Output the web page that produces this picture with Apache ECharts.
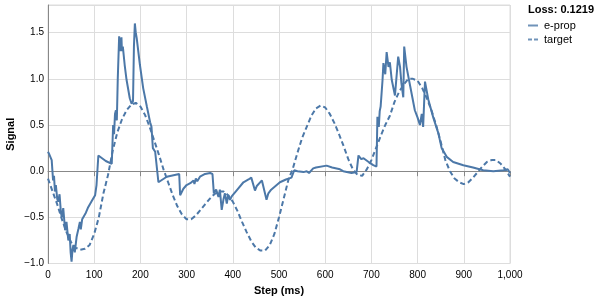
<!DOCTYPE html>
<html>
<head>
<meta charset="utf-8">
<script src="https://cdn.jsdelivr.net/npm/echarts@6/dist/echarts.min.js"></script>
<style>html,body{margin:0;padding:0;background:#fff}#c{width:600px;height:300px}</style>
</head>
<body>
<div id="c"></div>
<script>
// e-prop output (step ms, value)
const epropSteps = [0,3,8,11,13,15,17,20,22,25,28,30,33,37,40,44,47,49,51,53,55,58,62,66,69,71,74,77,82,87,95,102,105,109,125,138,141,143,145,147,149,151,154,156,158,159,160,162,166,170,177,181,184,186,188,190,192,199,206,214,221,224,227,232,239,257,284,286,293,300,308,315,317,320,323,329,340,351,356,359,364,369,372,376,380,383,387,390,394,398,408,423,434,440,444,448,452,463,466,473,477,483,502,515,527,533,540,553,560,565,574,580,603,615,632,639,657,668,672,678,683,694,704,711,713,716,718,720,722,724,726,730,733,737,740,744,751,758,762,765,769,771,776,784,794,800,805,809,812,816,823,834,845,852,863,877,899,920,942,964,986,995,998,1000];
const epropValues = [0.21,0.18,0.12,-0.10,-0.05,-0.22,-0.15,-0.30,-0.33,-0.25,-0.45,-0.50,-0.40,-0.64,-0.55,-0.75,-0.68,-0.88,-0.98,-0.85,-0.80,-0.88,-0.71,-0.62,-0.55,-0.63,-0.52,-0.53,-0.45,-0.39,-0.32,-0.26,-0.15,0.17,0.11,0.08,0.50,0.40,0.62,0.66,0.55,1.00,1.46,1.30,1.42,1.45,1.30,1.35,1.15,0.99,0.79,0.73,0.76,1.35,1.60,1.50,1.44,1.15,0.90,0.70,0.53,0.48,0.25,0.21,-0.12,-0.06,-0.03,-0.26,-0.19,-0.15,-0.13,-0.10,-0.14,-0.08,-0.11,-0.06,-0.03,-0.02,-0.03,-0.24,-0.20,-0.28,-0.20,-0.42,-0.30,-0.24,-0.35,-0.26,-0.31,-0.27,-0.21,-0.12,-0.09,-0.07,-0.09,-0.21,-0.16,-0.10,-0.09,-0.31,-0.24,-0.20,-0.12,-0.09,-0.07,0.01,0.00,-0.01,0.00,-0.02,0.03,0.04,0.06,0.04,0.02,0.00,-0.02,-0.01,0.17,0.13,0.14,0.10,0.065,0.05,0.59,0.48,0.65,0.70,0.84,0.98,1.17,1.05,1.29,1.13,1.18,0.99,0.82,1.24,1.13,0.95,0.80,1.35,1.13,0.92,0.66,0.58,0.50,0.62,0.48,0.97,0.78,0.58,0.41,0.25,0.155,0.10,0.065,0.04,0.01,0.00,0.01,0.02,0.00,-0.02];

// target signal (step ms, value)
const targetSteps = [0,10,20,30,40,50,60,70,80,90,100,110,120,130,140,150,160,170,180,190,200,210,220,230,240,250,260,270,280,290,300,310,320,330,340,350,360,370,380,390,400,410,420,430,440,450,460,470,480,490,500,510,520,530,540,550,560,570,580,590,600,610,620,630,640,650,660,670,680,690,700,710,720,730,740,750,760,770,780,790,800,810,820,830,840,850,860,870,880,890,900,910,920,930,940,950,960,970,980,990,1000];
const targetValues = [-0.08,-0.22,-0.36,-0.52,-0.66,-0.77,-0.83,-0.85,-0.84,-0.80,-0.68,-0.50,-0.24,-0.04,0.22,0.42,0.56,0.66,0.72,0.74,0.70,0.61,0.48,0.33,0.18,0.02,-0.12,-0.26,-0.38,-0.47,-0.52,-0.52,-0.48,-0.42,-0.36,-0.30,-0.25,-0.22,-0.22,-0.26,-0.33,-0.43,-0.55,-0.66,-0.76,-0.83,-0.86,-0.86,-0.80,-0.68,-0.50,-0.30,-0.10,0.03,0.20,0.36,0.48,0.60,0.68,0.71,0.69,0.62,0.52,0.40,0.27,0.13,0.02,-0.04,-0.05,0.02,0.12,0.25,0.38,0.50,0.60,0.75,0.86,0.94,1.00,1.00,0.98,0.90,0.79,0.66,0.50,0.32,0.12,0.00,-0.08,-0.12,-0.14,-0.12,-0.07,-0.01,0.05,0.10,0.12,0.12,0.08,0.02,-0.06];

const seriesNames = ['e-prop', 'target'];
const lossText = 'Loss: 0.1219';
const xTitle = 'Step (ms)';
const yTitle = 'Signal';

const FONT = '"Liberation Sans", Arial, sans-serif';
const COLOR = '#4c78a8';

const chart = echarts.init(document.getElementById('c'), null, {renderer: 'canvas'});
chart.setOption({
  animation: false,
  textStyle: {fontFamily: FONT},
  title: {
    text: lossText, left: 528, top: 4, padding: 0,
    textStyle: {fontSize: 11, fontWeight: 'bold', color: '#000', fontFamily: FONT}
  },
  legend: {
    orient: 'vertical', left: 528, top: 20, padding: 0, itemWidth: 10, itemHeight: 2, itemGap: 3,
    textStyle: {fontSize: 11, color: '#000', fontFamily: FONT, padding: [0, 0, 0, 1]},
    itemStyle: {opacity: 0.8},
    data: [
      {name: seriesNames[0], icon: 'path://M0,0H10V2H0Z'},
      {name: seriesNames[1], icon: 'path://M0,0H4V2H0Z M6,0H10V2H6Z'}
    ]
  },
  grid: {left: 48, right: 90, top: 5, bottom: 36.5, show: true, borderColor: '#ddd', borderWidth: 1,
         containLabel: false, outerBoundsMode: 'none'},
  xAxis: {
    type: 'value', min: 0, max: 1000, interval: 100,
    name: xTitle, nameLocation: 'middle', nameGap: 22,
    nameTextStyle: {fontSize: 11, fontWeight: 'bold', color: '#000', fontFamily: FONT},
    axisLine: {show: true, lineStyle: {color: '#888', width: 1}},
    axisTick: {show: true, length: 5, lineStyle: {color: '#888'}},
    axisLabel: {fontSize: 10, color: '#000', margin: 7, fontFamily: FONT,
      formatter: v => v >= 1000 ? Math.floor(v/1000) + ',' + String(v % 1000).padStart(3,'0') : String(v)},
    splitLine: {show: true, lineStyle: {color: '#ddd', width: 1}}
  },
  yAxis: {
    type: 'value', min: -1, max: 1.8, interval: 0.5,
    name: yTitle, nameLocation: 'middle', nameGap: 32, nameRotate: 90, nameMoveOverlap: false,
    nameTextStyle: {fontSize: 11, fontWeight: 'bold', color: '#000', fontFamily: FONT},
    axisLine: {show: true, lineStyle: {color: '#888', width: 1}},
    axisTick: {show: false},
    axisLabel: {fontSize: 10, color: '#000', margin: 4, showMaxLabel: false, fontFamily: FONT,
      formatter: v => (v < 0 ? '\u2212' : '') + Math.abs(v).toFixed(1)},
    splitLine: {show: true, lineStyle: {color: '#ddd', width: 1}}
  },
  series: [
    {
      name: seriesNames[0], type: 'line', symbol: 'none', color: COLOR,
      lineStyle: {color: COLOR, width: 2},
      data: epropSteps.map((s, i) => [s, epropValues[i]])
    },
    {
      name: seriesNames[1], type: 'line', symbol: 'none', color: COLOR,
      lineStyle: {color: COLOR, width: 2, type: [5, 3]},
      data: targetSteps.map((s, i) => [s, targetValues[i]])
    }
  ]
});
</script>
</body>
</html>
